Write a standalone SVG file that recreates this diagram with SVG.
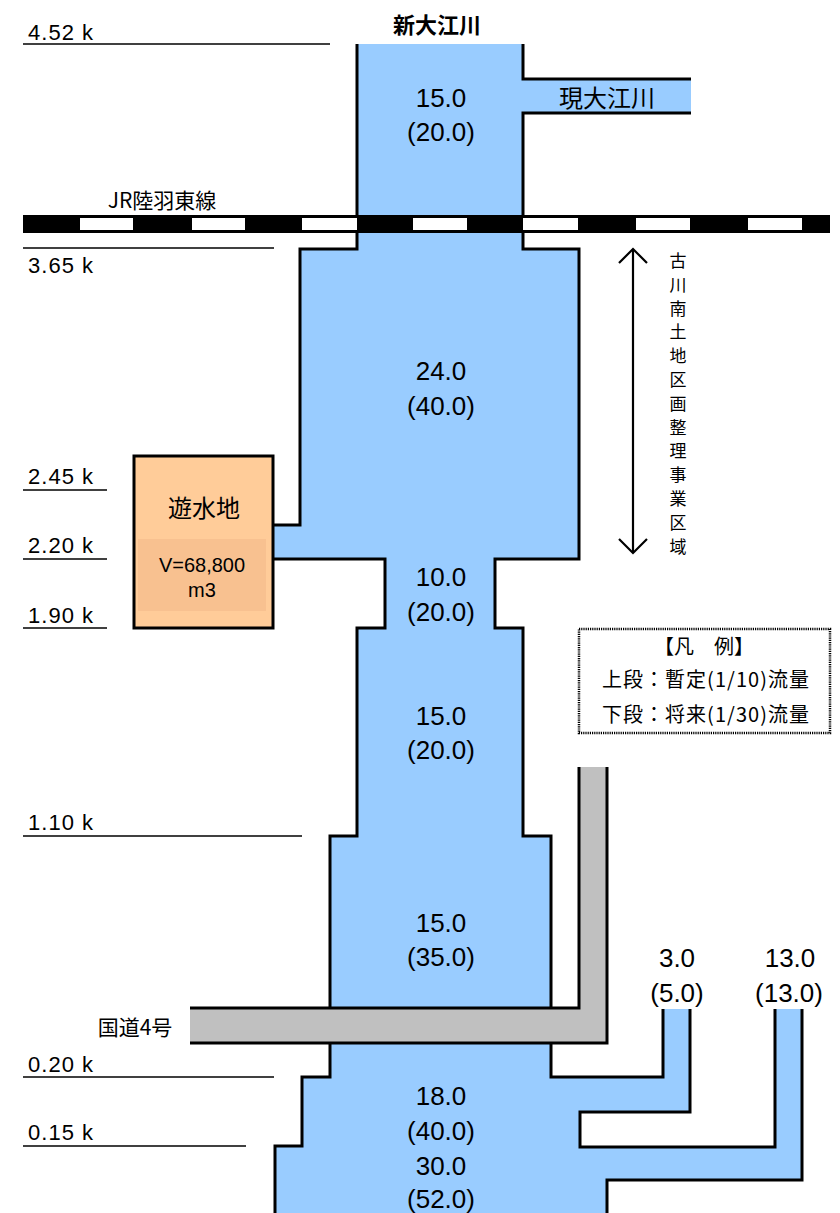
<svg xmlns="http://www.w3.org/2000/svg" width="840" height="1213" viewBox="0 0 840 1213">
<style>
text{font-family:"Noto Sans CJK JP","Liberation Sans",sans-serif;fill:#000}
.km{font-family:"Liberation Sans","Noto Sans CJK JP",sans-serif;font-size:22px}
.num{font-family:"Liberation Sans","Noto Sans CJK JP",sans-serif;font-size:26px;text-anchor:middle}
.vol{font-family:"Liberation Sans","Noto Sans CJK JP",sans-serif;font-size:20px;text-anchor:middle}
.ol{fill:none;stroke:#000;stroke-width:3;stroke-linejoin:miter}
.thin{stroke:#000;stroke-width:1.3}
.water{fill:#99CCFF}
.road{fill:#C0C0C0}
.lg{font-size:20px}
.arr{fill:none;stroke:#000;stroke-width:2.2}
</style>
<rect width="840" height="1213" fill="#fff"/>

<g id="km-lines">
<line class="thin" x1="23" y1="44" x2="330" y2="44"/>
<line class="thin" x1="23" y1="248" x2="274" y2="248"/>
<line class="thin" x1="23" y1="490" x2="107" y2="490"/>
<line class="thin" x1="23" y1="559" x2="107" y2="559"/>
<line class="thin" x1="23" y1="628" x2="107" y2="628"/>
<line class="thin" x1="23" y1="836" x2="302" y2="836"/>
<line class="thin" x1="23" y1="1077" x2="274" y2="1077"/>
<line class="thin" x1="23" y1="1146" x2="246" y2="1146"/>
<text class="km" x="28" y="40" textLength="65" lengthAdjust="spacing">4.52 k</text>
<text class="km" x="28" y="273" textLength="65" lengthAdjust="spacing">3.65 k</text>
<text class="km" x="28" y="484" textLength="65" lengthAdjust="spacing">2.45 k</text>
<text class="km" x="28" y="553" textLength="65" lengthAdjust="spacing">2.20 k</text>
<text class="km" x="28" y="623" textLength="65" lengthAdjust="spacing">1.90 k</text>
<text class="km" x="28" y="830" textLength="65" lengthAdjust="spacing">1.10 k</text>
<text class="km" x="28" y="1072" textLength="65" lengthAdjust="spacing">0.20 k</text>
<text class="km" x="28" y="1140" textLength="65" lengthAdjust="spacing">0.15 k</text>
</g>

<g id="channel">
<polygon class="water" points="357,44 523,44 523,79 691,79 691,113 523,113 523,249 579,249 579,559 495,559 495,628 523,628 523,836 551,836 551,1077 663,1077 663,1009 690,1009 690,1112 580,1112 580,1147 775,1147 775,1009 802,1009 802,1180 607,1180 607,1213 275,1213 275,1146 302,1146 302,1077 330,1077 330,836 357,836 357,628 385,628 385,559 273,559 273,525 300,525 300,249 357,249"/>
<polyline class="ol" points="357,44 357,249 300,249 300,525 273,525"/>
<polyline class="ol" points="273,559 385,559 385,628 357,628 357,836 330,836 330,1077 302,1077 302,1146 275,1146 275,1213"/>
<polyline class="ol" points="523,44 523,79 691,79"/>
<polyline class="ol" points="691,113 523,113 523,249 579,249 579,559 495,559 495,628 523,628 523,836 551,836 551,1077 663,1077 663,1009"/>
<polyline class="ol" points="690,1009 690,1112 580,1112 580,1147 775,1147 775,1009"/>
<polyline class="ol" points="802,1009 802,1180 607,1180 607,1213"/>
</g>

<g id="railway">
<rect x="23" y="215" width="807" height="18" fill="#000"/>
<g fill="#fff">
<rect x="80" y="218" width="53" height="12"/>
<rect x="192" y="218" width="53" height="12"/>
<rect x="302" y="218" width="55" height="12"/>
<rect x="413" y="218" width="54" height="12"/>
<rect x="523" y="218" width="55" height="12"/>
<rect x="636" y="218" width="54" height="12"/>
<rect x="748" y="218" width="54" height="12"/>
</g>
<text x="162" y="208" font-size="21" text-anchor="middle">JR陸羽東線</text>
</g>

<g id="road">
<path class="road" d="M579,767 H607 V1043 H190 V1008 H579 Z"/>
<polyline class="ol" points="579,767 579,1008 190,1008"/>
<polyline class="ol" points="607,767 607,1043 190,1043"/>
<text x="135" y="1035" font-size="21" text-anchor="middle">国道4号</text>
</g>

<g id="pond">
<rect x="134" y="456" width="139" height="172" fill="#FFCC99" stroke="#000" stroke-width="3"/>
<rect x="138" y="539" width="128" height="72" fill="#F8C190"/>
<text x="204" y="517" font-size="24" text-anchor="middle">遊水地</text>
<text class="vol" x="202" y="572">V=68,800</text>
<text class="vol" x="202" y="597">m3</text>
</g>

<g id="labels">
<text x="437" y="33" font-size="22" font-weight="bold" text-anchor="middle">新大江川</text>
<text x="607" y="107" font-size="24" text-anchor="middle">現大江川</text>
<text class="num" x="441" y="107">15.0</text>
<text class="num" x="441" y="141">(20.0)</text>
<text class="num" x="441" y="380">24.0</text>
<text class="num" x="441" y="415">(40.0)</text>
<text class="num" x="441" y="586">10.0</text>
<text class="num" x="441" y="621">(20.0)</text>
<text class="num" x="441" y="725">15.0</text>
<text class="num" x="441" y="759">(20.0)</text>
<text class="num" x="441" y="932">15.0</text>
<text class="num" x="441" y="966">(35.0)</text>
<text class="num" x="441" y="1105">18.0</text>
<text class="num" x="441" y="1140">(40.0)</text>
<text class="num" x="441" y="1175">30.0</text>
<text class="num" x="441" y="1208">(52.0)</text>
<text class="num" x="677" y="967">3.0</text>
<text class="num" x="677" y="1002">(5.0)</text>
<text class="num" x="790" y="967">13.0</text>
<text class="num" x="789" y="1002">(13.0)</text>
</g>

<g id="connectors">
<line class="arr" x1="633" y1="249" x2="633" y2="553"/>
<polyline class="arr" points="619,263 633,249 647,263"/>
<polyline class="arr" points="619,539 633,553 647,539"/>
</g>

<g id="district-label" font-size="17" text-anchor="middle">
<text x="678" y="267">古</text>
<text x="678" y="291">川</text>
<text x="678" y="315">南</text>
<text x="678" y="338">土</text>
<text x="678" y="362">地</text>
<text x="678" y="386">区</text>
<text x="678" y="410">画</text>
<text x="678" y="434">整</text>
<text x="678" y="457">理</text>
<text x="678" y="481">事</text>
<text x="678" y="505">業</text>
<text x="678" y="529">区</text>
<text x="678" y="553">域</text>
</g>

<g id="legend">
<rect x="579" y="629" width="251" height="104" fill="#fff" stroke="#000" stroke-width="2.5" stroke-dasharray="1.2 1"/>
<text class="lg" x="704" y="654" text-anchor="middle">【凡　例】</text>
<text class="lg" x="602" y="687" textLength="207" lengthAdjust="spacing">上段：暫定(1/10)流量</text>
<text class="lg" x="602" y="722" textLength="207" lengthAdjust="spacing">下段：将来(1/30)流量</text>
</g>
</svg>
